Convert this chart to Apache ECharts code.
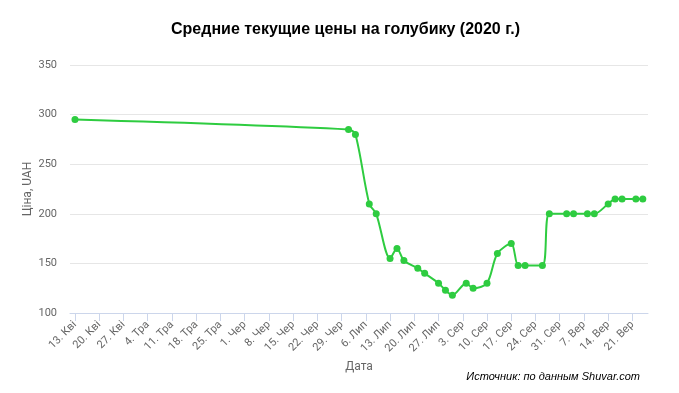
<!DOCTYPE html>
<html>
<head>
<meta charset="utf-8">
<script src="https://cdn.jsdelivr.net/npm/echarts@6/dist/echarts.min.js"></script>
<style>
html,body{margin:0;padding:0;background:#fff;}
#chart{width:679px;height:393px;}
</style>
</head>
<body>
<div id="chart"></div>
<script>
const titleText = 'Средние текущие цены на голубику (2020 г.)';
const yAxisName = 'Ціна, UAH';
const xAxisName = 'Дата';
const creditText = 'Источник: по данным Shuvar.com';

const dates = ['2020-04-13','2020-07-01','2020-07-03','2020-07-07','2020-07-09','2020-07-13','2020-07-15','2020-07-17',
  '2020-07-21','2020-07-23','2020-07-27','2020-07-29','2020-07-31','2020-08-04','2020-08-06','2020-08-10',
  '2020-08-13','2020-08-17','2020-08-19','2020-08-21','2020-08-26','2020-08-28','2020-09-02','2020-09-04',
  '2020-09-08','2020-09-10','2020-09-14','2020-09-16','2020-09-18','2020-09-22','2020-09-24'];
const prices = [295,285,280,210,200,155,165,153,145,140,130,123,118,130,125,130,
  160,170,148,148,148,200,200,200,200,200,210,215,215,215,215];

const tickLabels = ['13. Кві','20. Кві','27. Кві','4. Тра','11. Тра','18. Тра','25. Тра','1. Чер','8. Чер','15. Чер',
  '22. Чер','29. Чер','6. Лип','13. Лип','20. Лип','27. Лип','3. Сер','10. Сер','17. Сер','24. Сер','31. Сер',
  '7. Вер','14. Вер','21. Вер'];
const yTicks = [100,150,200,250,300,350];

const DAY = 86400000;
function dayIndex(s){ const p=s.split('-'); return (Date.UTC(+p[0],+p[1]-1,+p[2]) - Date.UTC(2020,3,13))/DAY; }
const seriesData = dates.map((d,i)=>[dayIndex(d), prices[i]]);
const tickValues = tickLabels.map((t,i)=>i*7);

const chart = echarts.init(document.getElementById('chart'));
chart.setOption({
  animation:false,
  backgroundColor:'#fff',
  title:{text:titleText,left:166,top:17,textStyle:{fontFamily:'Liberation Sans, Arial',fontSize:16,fontWeight:'bold',color:'#000'}},
  grid:{left:70,right:31,top:65,bottom:80,containLabel:false},
  xAxis:{
    type:'value',min:-1.44,max:165.5,
    name:xAxisName,nameLocation:'middle',nameGap:48,nameMoveOverlap:false,
    nameTextStyle:{color:'#666',fontSize:12,fontFamily:'Roboto, Arial'},
    axisLine:{show:true,lineStyle:{color:'#ccd6eb',width:1}},
    axisTick:{show:true,length:8,lineStyle:{color:'#ccd6eb'},customValues:tickValues},
    splitLine:{show:false},
    axisLabel:{customValues:tickValues,rotate:45,margin:10,color:'#666',fontSize:11,fontFamily:'Roboto, Arial',
      formatter:v=>tickLabels[Math.round(v/7)]}
  },
  yAxis:{
    type:'value',min:100,max:350,interval:50,
    name:yAxisName,nameLocation:'middle',nameGap:36,nameMoveOverlap:false,
    nameTextStyle:{color:'#666',fontSize:12,fontFamily:'Roboto, Arial'},
    axisLine:{show:false},axisTick:{show:false},
    splitLine:{lineStyle:{color:'#e6e6e6'}},
    axisLabel:{color:'#666',fontSize:11,margin:13,fontFamily:'Roboto, Arial',
      formatter:v=>yTicks.indexOf(v)>=0?String(v):''}
  },
  series:[{
    type:'line',data:seriesData,smooth:0.3,
    symbol:'circle',symbolSize:7,
    lineStyle:{color:'#2ecc40',width:2},
    itemStyle:{color:'#2ecc40'}
  }],
  graphic:[{type:'text',right:39,top:371,style:{text:creditText,fill:'#000',font:'italic 11px Liberation Sans, Arial'}}]
});
</script>
</body>
</html>
